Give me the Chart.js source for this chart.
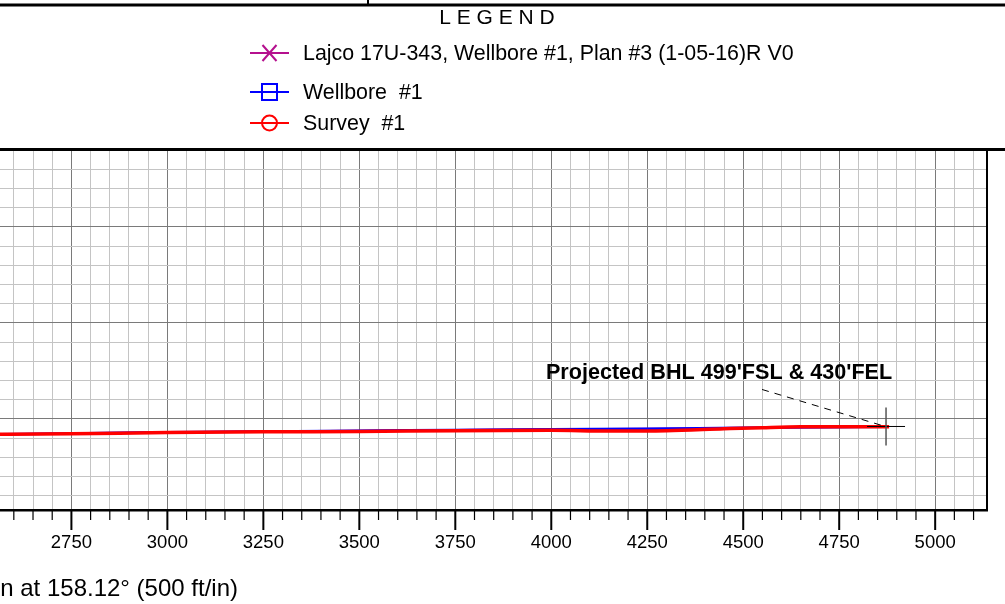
<!DOCTYPE html>
<html>
<head>
<meta charset="utf-8">
<script src="https://cdn.jsdelivr.net/npm/chart.js@4.4.1/dist/chart.umd.min.js"></script>
<style>
  body { margin: 0; background: #fff; }
  canvas { display: block; }
</style>
</head>
<body>
<canvas id="myChart" width="1005" height="604"></canvas>
<script>
// vertical section (ft) and TVD (ft)
const planVS = [2500, 2750, 3000, 3250, 3500, 3750, 4000, 4250, 4500, 4750, 4872];
const planTVD = [8041, 8038, 8035, 8033, 8031, 8029, 8027, 8026, 8024, 8022, 8021];

const wellboreVS = [2500, 2750, 3000, 3250, 3500, 3750, 4000, 4250, 4500, 4650, 4872];
const wellboreTVD = [8041, 8038, 8035, 8033, 8031, 8029, 8027, 8026, 8023, 8022, 8021];

const surveyVS = [2500, 2750, 3000, 3250, 3500, 3750, 4000, 4150, 4300, 4450, 4550, 4650, 4880];
const surveyTVD = [8041, 8039, 8036, 8034, 8033, 8031, 8030, 8032, 8031, 8026, 8023, 8021, 8021];

const xMin = 2564, xMax = 5135;
const yMin = 7300, yMax = 8237.5;
const bhlVS = 4872, bhlTVD = 8020;

const bhlLabel = "Projected BHL 499'FSL & 430'FEL";
const axisTitle = 'Vertical Section at 158.12° (500 ft/in)';

function toPoints(xs, ys) {
    return xs.map((x, i) => ({ x: x, y: ys[i] }));
}

const FONT = '"Liberation Sans", Arial, sans-serif';

// legend box, borders, tick marks, BHL label
const wellPlotDecor = {
    id: 'wellPlotDecor',
    afterDraw(chart) {
        const ctx = chart.ctx;
        const area = chart.chartArea;
        const xs = chart.scales.x;
        const ys = chart.scales.y;
        ctx.save();

        // tick marks below the axis
        ctx.strokeStyle = '#000';
        xs.ticks.forEach(t => {
            const px = xs.getPixelForValue(t.value);
            const major = t.value % 250 === 0;
            ctx.lineWidth = major ? 2 : 1.2;
            ctx.beginPath();
            ctx.moveTo(px, area.bottom);
            ctx.lineTo(px, area.bottom + (major ? 20 : 10));
            ctx.stroke();
        });

        // frame
        ctx.lineWidth = 3;
        ctx.beginPath();
        ctx.moveTo(0, area.top - 0.5);
        ctx.lineTo(chart.width, area.top - 0.5);
        ctx.moveTo(0, 5);
        ctx.lineTo(chart.width, 5);
        ctx.stroke();
        ctx.lineWidth = 2;
        ctx.beginPath();
        ctx.moveTo(area.right, area.top);
        ctx.lineTo(area.right, area.bottom);
        ctx.moveTo(368, 0);
        ctx.lineTo(368, 5);
        ctx.stroke();

        // legend
        ctx.fillStyle = '#000';
        ctx.textAlign = 'center';
        ctx.textBaseline = 'middle';
        ctx.font = '21px ' + FONT;
        ctx.fillText('L E G E N D', 497, 18);

        const rows = [53, 92, 123];
        chart.data.datasets.slice().reverse().forEach((ds, i) => {
            const y = rows[i];
            const cx = 269.5;
            ctx.strokeStyle = ds.borderColor;
            ctx.lineWidth = 2;
            ctx.beginPath();
            ctx.moveTo(250, y);
            ctx.lineTo(289, y);
            ctx.stroke();
            ctx.beginPath();
            if (ds.legendMark === 'cross') {
                ctx.moveTo(cx - 7, y - 8); ctx.lineTo(cx + 7, y + 8);
                ctx.moveTo(cx + 7, y - 8); ctx.lineTo(cx - 7, y + 8);
            } else if (ds.legendMark === 'rect') {
                ctx.rect(cx - 7.5, y - 8, 15, 16);
            } else {
                ctx.arc(cx, y, 7.5, 0, Math.PI * 2);
            }
            ctx.stroke();
            ctx.fillStyle = '#000';
            ctx.textAlign = 'left';
            ctx.font = '21.4px ' + FONT;
            ctx.fillText(ds.label, 303, y + 1);
        });

        // projected BHL
        const endX = xs.getPixelForValue(bhlVS);
        const endY = ys.getPixelForValue(bhlTVD);
        ctx.strokeStyle = '#000';
        ctx.lineWidth = 1;
        ctx.beginPath();
        ctx.moveTo(endX - 19, endY);
        ctx.lineTo(endX + 19, endY);
        ctx.stroke();
        ctx.strokeStyle = '#555';
        ctx.lineWidth = 1.5;
        ctx.beginPath();
        ctx.moveTo(endX, endY - 19);
        ctx.lineTo(endX, endY + 19);
        ctx.stroke();
        ctx.strokeStyle = '#000';
        ctx.lineWidth = 1;
        ctx.setLineDash([7, 6]);
        ctx.beginPath();
        ctx.moveTo(endX - 124, endY - 37);
        ctx.lineTo(endX - 4, endY - 1);
        ctx.stroke();
        ctx.setLineDash([]);
        ctx.fillStyle = '#000';
        ctx.textAlign = 'center';
        ctx.font = 'bold 21.6px ' + FONT;
        ctx.fillText(bhlLabel, endX - 167, endY - 53);

        // axis title (cut off at the left like the source)
        ctx.textAlign = 'right';
        ctx.font = '24px ' + FONT;
        ctx.fillText(axisTitle, 238, 589);

        ctx.restore();
    }
};

function gridColor(c) {
    return c.tick && c.tick.value % 250 === 0 ? '#7a7a7a' : '#c4c4c4';
}

document.addEventListener('DOMContentLoaded', function () {
    const ctx = document.getElementById('myChart').getContext('2d');
    new Chart(ctx, {
        type: 'line',
        data: {
            datasets: [{
                label: 'Lajco 17U-343, Wellbore #1, Plan #3 (1-05-16)R V0',
                data: toPoints(planVS, planTVD),
                borderColor: '#B5108E',
                borderWidth: 2,
                legendMark: 'cross'
            }, {
                label: 'Wellbore  #1',
                data: toPoints(wellboreVS, wellboreTVD),
                borderColor: '#0000FF',
                borderWidth: 2.5,
                legendMark: 'rect'
            }, {
                label: 'Survey  #1',
                data: toPoints(surveyVS, surveyTVD),
                borderColor: '#FF0000',
                borderWidth: 3.5,
                legendMark: 'circle'
            }].reverse()
        },
        options: {
            responsive: false,
            animation: false,
            elements: {
                point: { radius: 0 },
                line: { fill: false, cubicInterpolationMode: 'monotone' }
            },
            layout: { padding: { top: 150, right: 18, left: 0, bottom: 0 } },
            plugins: {
                legend: { display: false },
                tooltip: { enabled: false }
            },
            scales: {
                x: {
                    type: 'linear',
                    min: xMin,
                    max: xMax,
                    afterBuildTicks: s => {
                        const t = [];
                        for (let v = 2600; v <= 5100; v += 50) t.push({ value: v });
                        s.ticks = t;
                    },
                    afterFit: s => {
                        s.height = 94;
                        s.paddingLeft = 0;
                        s.paddingRight = 0;
                    },
                    grid: { color: gridColor, lineWidth: 1, drawTicks: false },
                    border: { display: true, color: '#000', width: 2.5 },
                    ticks: {
                        autoSkip: false,
                        maxRotation: 0,
                        padding: 22,
                        color: '#000',
                        font: { family: FONT, size: 18.5 },
                        callback: v => (v % 250 === 0 ? String(v) : '')
                    }
                },
                y: {
                    type: 'linear',
                    reverse: true,
                    min: yMin,
                    max: yMax,
                    afterBuildTicks: s => {
                        const t = [];
                        for (let v = 7300; v <= 8200; v += 50) t.push({ value: v });
                        s.ticks = t;
                    },
                    afterFit: s => {
                        s.width = 0;
                        s.paddingTop = 0;
                        s.paddingBottom = 0;
                    },
                    grid: { color: gridColor, lineWidth: 1, drawTicks: false },
                    border: { display: false },
                    ticks: { display: false }
                }
            }
        },
        plugins: [wellPlotDecor]
    });
});
</script>
</body>
</html>
